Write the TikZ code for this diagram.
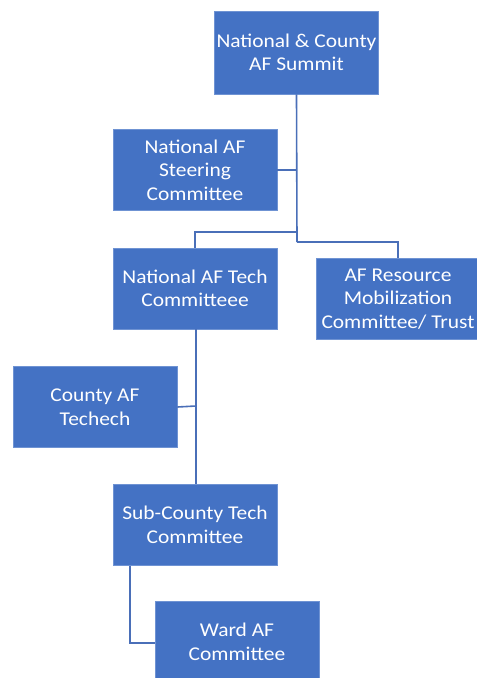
\documentclass[tikz,border=0pt]{standalone}
\usepackage{fontspec}
\setmainfont{Carlito}[FakeStretch=1.1]
\definecolor{boxblue}{HTML}{4472C4}
\definecolor{edgeblue}{HTML}{6F93D3}
\definecolor{lineblue}{HTML}{4A6FB8}
\begin{document}
\begin{tikzpicture}[x=1pt,y=-1pt,
  orgbox/.style={rectangle, fill=boxblue, draw=edgeblue, line width=0.6pt,
    minimum width=164pt, minimum height=81pt, inner sep=0pt, align=center,
    text=white, font=\fontsize{19.5}{23.5}\selectfont},
  link/.style={draw=lineblue, line width=1.6pt}]
\useasboundingbox (0,0) rectangle (477,678);
\node[orgbox, minimum height=83pt] (summit) at (296.5,52.5) {National \& County\\AF Summit};
\node[orgbox] (steer) at (195,170) {National AF\\Steering\\Committee};
\node[orgbox] (tech) at (195,288.5) {National AF Tech\\Committeee};
\node[orgbox] (res) at (398,299) {AF Resource\\Mobilization\\Committee/ Trust};
\node[orgbox] (county) at (95,407) {County AF\\Techech};
\node[orgbox] (sub) at (195,525) {Sub-County Tech\\Committee};
\node[orgbox] (ward) at (237,642) {Ward AF\\Committee};
\coordinate (j1) at (297,232);
\coordinate (j2) at (297,242);
\coordinate (j3) at (196,406);
\coordinate (j4) at (130,643);
\draw[link] (summit.south) -- (j2);
\draw[link] (steer.east) -- (steer.east -| summit.south);
\draw[link] (j1) -| (tech.north);
\draw[link] (j2) -| (res.north);
\draw[link] (tech.south) ++(1,0) -- (sub.north -| j3);
\draw[link] (county.east) -- (j3);
\draw[link] (sub.south -| j4) -- (j4) -- (ward.west |- j4);
\end{tikzpicture}
\end{document}
